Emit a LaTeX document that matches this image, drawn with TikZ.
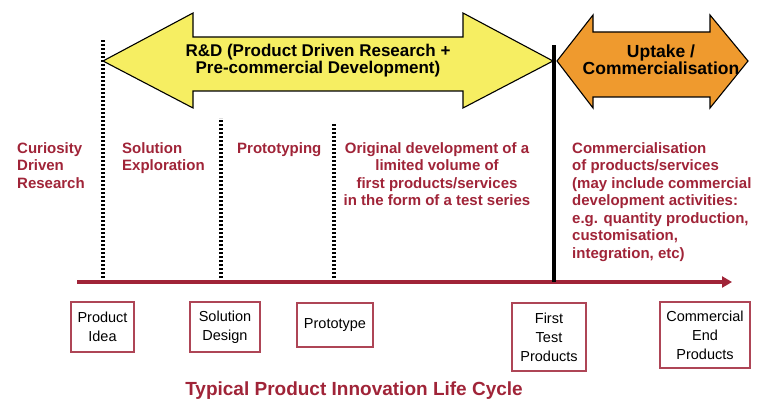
\documentclass[tikz,border=0pt]{standalone}
\usepackage{fontspec}
\setmainfont{Liberation Sans}
\usepackage{xcolor}
\usetikzlibrary{arrows.meta}
\definecolor{lifered}{RGB}{160,36,56}
\definecolor{rdyellow}{RGB}{246,238,98}
\definecolor{uporange}{RGB}{239,154,46}

\begin{document}
\begin{tikzpicture}[
    x=1pt, y=-1pt,
    phase/.style={text=lifered, font=\bfseries\fontsize{15}{17.5}\selectfont, inner sep=0pt, align=left},
    outputbox/.style={draw=lifered!85, line width=1.2pt, font=\fontsize{14.5}{19}\selectfont, align=center, inner sep=0pt},
    bigarrow/.style={draw=black, line width=1.1pt, line join=miter},
    divider/.style={black, line width=3.2pt, dash pattern=on 2.4pt off 1.6pt}
]
\useasboundingbox (0,0) rectangle (760,401);

% the two phase arrows
\draw[bigarrow, fill=rdyellow] (103,61) -- (193,13) -- (193,37) -- (463,37) -- (463,13) -- (553,61)
    -- (463,108) -- (463,91) -- (193,91) -- (193,108) -- cycle;
\draw[bigarrow, fill=uporange] (557,61) -- (593,15) -- (593,32) -- (710,32) -- (710,15) -- (748,61)
    -- (710,108) -- (710,97) -- (593,97) -- (593,108) -- cycle;
\node[font=\bfseries\fontsize{17}{17}\selectfont, align=center] (rd) at (318,61)
    {R\&D (Product Driven Research +\\Pre-commercial Development)};
\node[font=\bfseries\fontsize{17.5}{16}\selectfont, align=center] (uptake) at (661,60)
    {Uptake /\\Commercialisation};

% time axis
\coordinate (axisL) at (77,282);
\coordinate (axisR) at (732,282);
\coordinate (d1) at (103,282);
\coordinate (d2) at (221,282);
\coordinate (d3) at (334,282);
\coordinate (d4) at (554,282);
\draw[divider] (d1) -- ++(0,-243);
\draw[divider] (d2) -- ++(0,-164);
\draw[divider] (d3) -- ++(0,-159);
\draw[lifered, line width=4pt, -{Triangle[length=10pt,width=11pt]}] (axisL) -- (axisR);
\draw[black, line width=4pt] (d4) -- ++(0,-237);

% phases
\node[phase, anchor=north west] (curiosity) at (17,142) {Curiosity\\Driven\\Research};
\node[phase, anchor=north west] (exploration) at (122,142) {Solution\\Exploration};
\node[phase, anchor=north west] (prototyping) at (237,142) {Prototyping};
\node[phase, anchor=north, align=center] (testseries) at (437,142)
    {Original development of a\\limited volume of\\first products/services\\in the form of a test series};
\node[phase, anchor=north west] (commercial) at (572,142)
    {Commercialisation\\of products/services\\(may include commercial\\development activities:\\e.g. quantity production,\\customisation,\\integration, etc)};

% outputs
\node[outputbox, minimum width=63pt, minimum height=50pt] (idea) at (102.5,327) {Product\\Idea};
\node[outputbox, minimum width=70pt, minimum height=50pt] (design) at (225,327) {Solution\\Design};
\node[outputbox, minimum width=76pt, minimum height=44pt] (prototype) at (335,325) {Prototype};
\node[outputbox, minimum width=74pt, minimum height=68pt] (firsttest) at (549,337) {First\\Test\\Products};
\node[outputbox, minimum width=90pt, minimum height=66pt] (endprod) at (705,335) {Commercial\\End\\Products};

\node[text=lifered, font=\bfseries\fontsize{19}{19}\selectfont] (title) at (354,391)
    {Typical Product Innovation Life Cycle};
\end{tikzpicture}
\end{document}
